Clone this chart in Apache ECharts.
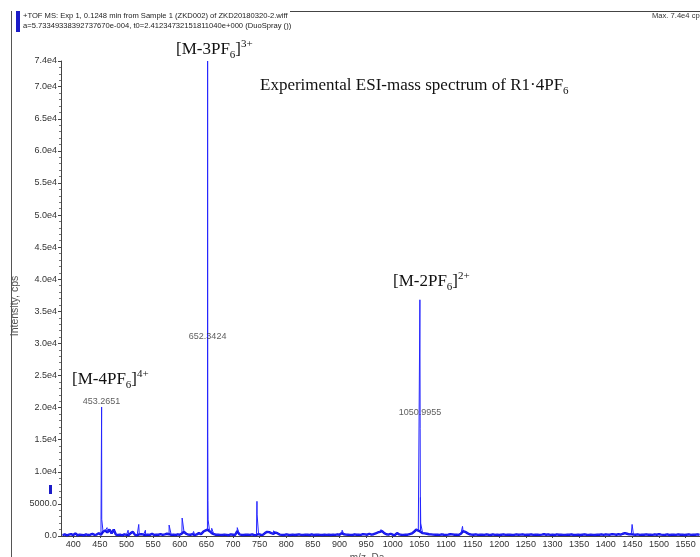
<!DOCTYPE html>
<html>
<head>
<meta charset="utf-8">
<script src="https://cdn.jsdelivr.net/npm/echarts@6/dist/echarts.min.js"></script>
<style>
  html, body { margin: 0; padding: 0; background: #fff; }
  #chart { width: 700px; height: 557px; }
</style>
</head>
<body>
<div id="chart"></div>
<script>
// ---- data -------------------------------------------------------------
// x-axis tick labels (m/z, Da)
const xTicks = [400, 450, 500, 550, 600, 650, 700, 750, 800, 850, 900, 950,
                1000, 1050, 1100, 1150, 1200, 1250, 1300, 1350, 1400, 1450, 1500, 1550];

// resolved peaks: m/z and intensity (cps)
const peakMz = [453.2651, 453.52, 455.0, 463.5, 503.0, 523.0, 535.5, 580.0, 604.5, 610.0, 626.0,
                652.3424, 652.67, 653.0, 653.34, 660.0, 708.0, 745.0, 745.3,
                766.0, 770.0, 776.0, 783.0, 905.0, 978.0,
                1050.9955, 1051.49, 1052.0, 1052.5, 1131.0, 1133.0, 1449.5];
const peakInt = [20100, 2600, 2300, 1300, 900, 1800, 900, 1700, 2800, 900, 700,
                 74000, 15500, 5500, 2500, 1200, 1300, 5400, 3300,
                 900, 900, 800, 800, 900, 1000,
                 36800, 16800, 6000, 2000, 1500, 900, 1800];

// baseline noise, sampled every 4 Da from 380 Da
const noiseStart = 380;
const noiseStep = 4;
const noiseInt = [
  150, 250, 100, 200, 300, 150, 400, 120, 220, 170, 110, 260, 150, 200, 320, 180, 220, 450, 200, 650, 850, 550, 1000, 400, 1000,
  220, 150, 200, 100, 260, 180, 150, 450, 650, 180, 120, 250, 300, 200, 150, 220, 180, 350, 150, 220, 200, 280, 180, 250, 350,
  280, 180, 220, 150, 260, 200, 400, 650, 350, 220, 200, 280, 150, 250, 450, 280, 650, 850, 1000, 750, 450, 280, 200, 220, 180,
  150, 220, 180, 120, 250, 200, 150, 750, 250, 180, 150, 220, 200, 170, 250, 120, 180, 280, 200, 180, 450, 650, 600, 450, 350,
  550, 400, 220, 180, 150, 250, 200, 160, 220, 150, 200, 250, 180, 150, 220, 200, 160, 250, 150, 200, 220, 180, 150, 200, 170,
  200, 150, 220, 180, 250, 200, 450, 280, 220, 200, 180, 150, 250, 200, 220, 180, 280, 250, 200, 350, 220, 280, 400, 550, 650,
  750, 450, 280, 220, 350, 200, 150, 450, 250, 200, 180, 220, 200, 300, 400, 650, 1000, 850, 650, 450, 400, 350, 280, 250, 220,
  200, 200, 180, 250, 200, 170, 220, 280, 250, 200, 220, 180, 350, 750, 650, 450, 280, 220, 200, 250, 180, 220, 200, 170, 250,
  200, 160, 250, 180, 220, 150, 200, 250, 170, 200, 220, 150, 180, 250, 200, 220, 260, 180, 220, 200, 250, 170, 220, 200, 180,
  220, 280, 200, 250, 180, 220, 150, 250, 200, 220, 180, 170, 220, 200, 250, 150, 180, 220, 150, 200, 250, 200, 170, 220, 180,
  150, 220, 200, 250, 180, 260, 220, 200, 300, 250, 200, 280, 220, 350, 450, 350, 250, 300, 220, 200, 250, 180, 220, 200, 250,
  200, 220, 180, 250, 200, 280, 220, 180, 200, 250, 150, 220, 200, 180, 250, 200, 220, 150, 200, 250, 180, 220, 200, 250, 200
];

// peaks whose m/z is printed on the plot
const labelledMz = [453.2651, 652.3424, 1050.9955];

// ---- layout / styling ----------------------------------------------------
const NARROW = "'Liberation Sans Narrow','Liberation Sans',Arial,sans-serif";
const SERIF = "'Liberation Serif','Times New Roman',serif";
const BLUE = '#2626ff';
const AXIS = '#444';
const HEAD_FONT = "7.6px 'Liberation Sans Narrow', 'Liberation Sans', Arial";

// height (cps) at which each m/z label is printed
const labelHeights = { 453.2651: 20900, 652.3424: 31000, 1050.9955: 19300 };

// noise trace on its own, and noise merged with peaks into one profile trace
const noiseTrace = noiseInt.map((v, i) => [noiseStart + i * noiseStep, v]);
const profile = noiseTrace
  .concat(peakMz.map((m, i) => [m, peakInt[i]]))
  .sort((a, b) => a[0] - b[0]);

const peakLabelData = labelledMz.map(m => [m, labelHeights[m]]);

function yLabel(v) {
  if (v === 0) return '0.0';
  if (v < 10000) return v.toFixed(1);
  return (v / 1e4).toFixed(1) + 'e4';
}

// rich-text helpers for the ion annotations
const richIon = {
  b: { fontFamily: SERIF, fontSize: 17, lineHeight: 22, verticalAlign: 'middle', fill: '#111' },
  s: { fontFamily: SERIF, fontSize: 11, lineHeight: 22, verticalAlign: 'bottom', fill: '#111' },
  p: { fontFamily: SERIF, fontSize: 11, lineHeight: 22, verticalAlign: 'top', fill: '#111' }
};
function ionText(x, y, text) {
  return { type: 'text', left: x, top: y, style: { text: text, rich: richIon, fill: '#111' } };
}

const chart = echarts.init(document.getElementById('chart'), null, { renderer: 'canvas' });

chart.setOption({
  animation: false,
  backgroundColor: '#fff',
  grid: { left: 61, right: 0, top: 61, bottom: 21, containLabel: false },
  xAxis: {
    type: 'value',
    min: 377,
    max: 1577,
    axisLine: { lineStyle: { color: AXIS, width: 1 } },
    axisTick: { show: true, length: 2, lineStyle: { color: AXIS }, customValues: xTicks },
    axisLabel: { customValues: xTicks, formatter: v => String(v), fontFamily: NARROW, fontSize: 9, color: '#333', margin: 4 },
    splitLine: { show: false }
  },
  yAxis: {
    type: 'value',
    min: 0,
    max: 74000,
    interval: 5000,
    axisLine: { show: true, lineStyle: { color: AXIS, width: 1 } },
    axisTick: { show: true, length: 3, lineStyle: { color: AXIS } },
    minorTick: { show: true, splitNumber: 5, length: 2, lineStyle: { color: '#777' } },
    axisLabel: { formatter: yLabel, fontFamily: NARROW, fontSize: 9, color: '#333', margin: 4, showMaxLabel: true },
    splitLine: { show: false }
  },
  series: [
    {
      name: 'baseline',
      type: 'line',
      data: noiseTrace,
      showSymbol: false,
      symbol: 'none',
      sampling: null,
      lineStyle: { color: '#1010e0', width: 2.4 },
      emphasis: { disabled: true },
      silent: true,
      z: 3
    },
    {
      name: 'TOF MS',
      type: 'line',
      data: profile,
      showSymbol: false,
      symbol: 'none',
      sampling: null,
      lineStyle: { color: BLUE, width: 1 },
      emphasis: { disabled: true },
      z: 4
    },
    {
      name: 'peak labels',
      type: 'scatter',
      data: peakLabelData,
      symbolSize: 0,
      silent: true,
      label: {
        show: true,
        position: 'inside',
        formatter: p => p.value[0].toFixed(4),
        fontFamily: NARROW,
        fontSize: 9,
        color: '#333'
      },
      z: 5
    }
  ],
  graphic: [
    // frame lines of the report pane
    { type: 'line', shape: { x1: 11.5, y1: 11, x2: 11.5, y2: 557 }, style: { stroke: '#555', lineWidth: 1 } },
    { type: 'line', shape: { x1: 290, y1: 11.5, x2: 700, y2: 11.5 }, style: { stroke: '#444', lineWidth: 1 } },
    { type: 'rect', shape: { x: 16, y: 11, width: 4, height: 21 }, style: { fill: '#1c1cc8' } },
    // header
    { type: 'text', left: 23, top: 12, style: { text: '+TOF MS: Exp 1, 0.1248 min from Sample 1 (ZKD002) of ZKD20180320-2.wiff', font: HEAD_FONT, fill: '#222' } },
    { type: 'text', left: 23, top: 22, style: { text: 'a=5.73349338392737670e-004, t0=2.41234732151811040e+000 (DuoSpray ())', font: HEAD_FONT, fill: '#222' } },
    { type: 'text', left: 652, top: 12, style: { text: 'Max. 7.4e4 cps.', font: HEAD_FONT, fill: '#333' } },
    // intensity threshold marker
    { type: 'rect', shape: { x: 49, y: 485, width: 3, height: 9 }, style: { fill: '#1c1cc8' } },
    // axis titles
    { type: 'text', x: 15, y: 306, rotation: Math.PI / 2, style: { text: 'Intensity, cps', font: "10.5px 'Liberation Sans', Arial", fill: '#555', align: 'center', verticalAlign: 'middle' } },
    { type: 'text', x: 367, y: 553, style: { text: 'm/z, Da', font: "10px 'Liberation Sans', Arial", fill: '#555', align: 'center', verticalAlign: 'top' } },
    // ion assignments
    ionText(176, 39, '{b|[M-3PF}{s|6}{b|]}{p|3+}'),
    ionText(393, 271, '{b|[M-2PF}{s|6}{b|]}{p|2+}'),
    ionText(72, 369, '{b|[M-4PF}{s|6}{b|]}{p|4+}'),
    ionText(260, 77, '{b|Experimental ESI-mass spectrum of R1·4PF}{s|6}')
  ]
});
</script>
</body>
</html>
